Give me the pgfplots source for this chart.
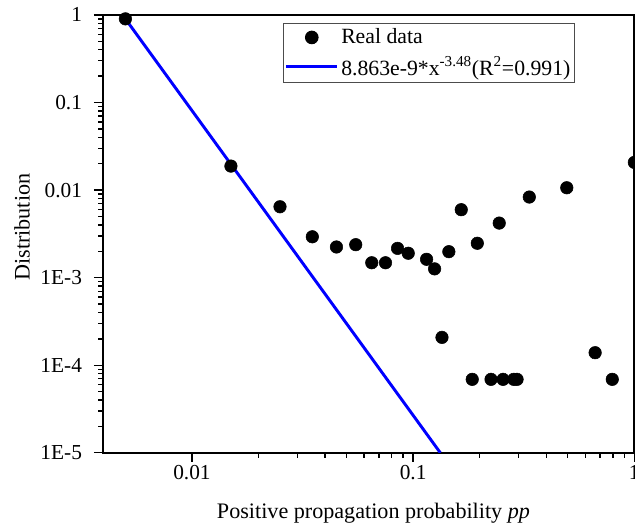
\documentclass[border=0pt]{standalone}
\usepackage{fontspec}
\setmainfont{Liberation Serif}
\usepackage{pgfplots}
\pgfplotsset{compat=1.18}
\usetikzlibrary{calc}
\definecolor{fitblue}{RGB}{0,0,255}
\pgfplotsset{
  legdot/.style={legend image code/.code={\draw[##1] plot coordinates {(19pt,0pt)};}},
  legline/.style={legend image code/.code={\draw[##1] (0pt,0pt) -- (38pt,0pt);}},
}

\begin{document}
\begin{tikzpicture}
\begin{axis}[
    scale only axis,
    width=398.5pt, height=328.4pt,
    xmode=log, ymode=log,
    xmin=0.00396, xmax=1,
    ymin=1e-5, ymax=1,
    xtick={0.01,0.1,1},
    xticklabels={0.01,0.1,1},
    ytick={1e-5,1e-4,1e-3,1e-2,1e-1,1},
    yticklabels={1E-5,1E-4,1E-3,0.01,0.1,1},
    /pgf/number format/assume math mode=true,
    tick pos=left,
    tick align=outside,
    major tick length=6.8pt,
    minor tick length=3.6pt,
    axis line style={line width=1.4pt},
    every tick/.style={black, line width=1pt},
    tick label style={font=\fontsize{16}{19}\selectfont},
    yticklabel style={xshift=-5.5pt},
    xticklabel style={yshift=1pt},
    label style={font=\fontsize{16.6}{19}\selectfont},
    xlabel={Positive propagation probability \textit{pp}},
    ylabel={Distribution},
    xlabel style={at={(axis description cs:0.509,-0.1377)}, anchor=center},
    ylabel style={at={(axis description cs:-0.1525,0.5155)}, anchor=center},
    legend style={at={(0.339,0.9815)}, anchor=north west,
        draw=black!70, line width=0.8pt,
        font=\fontsize{16.3}{19.5}\selectfont,
        inner xsep=1pt, inner ysep=2pt,
        row sep=4pt},
    legend cell align={left},
]
\addplot[only marks, mark=*, mark size=4.7pt, black, legdot]
  coordinates {
    (0.005,0.902)(0.015,0.0188)(0.025,0.00645)(0.035,0.00293)(0.045,0.00224)
    (0.055,0.00238)(0.065,0.00148)(0.075,0.00148)(0.085,0.00216)(0.095,0.00190)
    (0.115,0.00162)(0.125,0.00126)(0.135,0.000208)(0.145,0.00198)(0.165,0.00597)
    (0.185,6.9e-5)(0.195,0.00247)(0.225,6.9e-5)(0.245,0.00420)(0.255,6.9e-5)
    (0.285,6.9e-5)(0.295,6.9e-5)(0.335,0.00833)(0.495,0.01063)(0.665,0.000139)
    (0.795,6.9e-5)(1.0,0.0207)
  };
\addlegendentry{Real data}
\addplot[fitblue, line width=2.2pt, no marks, legline]
  coordinates {(0.005,0.902)(0.1327,1e-5)};
\addlegendentry{8.863e-9*x\textsuperscript{-3.48}(R\textsuperscript{2}=0.991)}
\end{axis}
\pgfresetboundingbox
\path[use as bounding box] ($(current axis.south west)+(-77.25pt,-57.2pt)$) rectangle ($(current axis.north east)+(0.5pt,11.2pt)$);
\end{tikzpicture}
\end{document}
